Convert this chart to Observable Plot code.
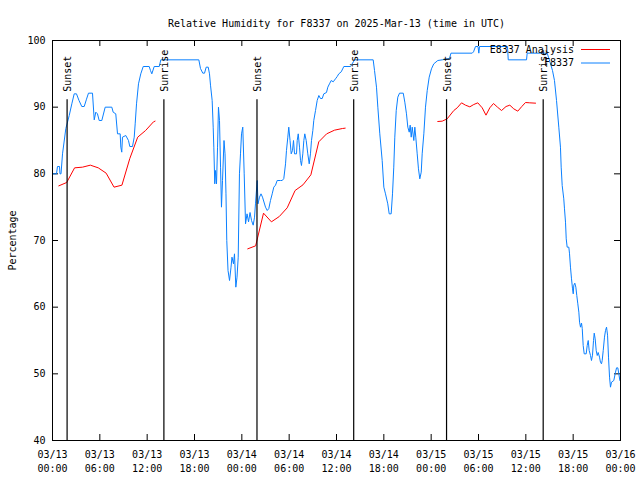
<!DOCTYPE html>
<html><head><meta charset="utf-8">
<script src="https://cdn.jsdelivr.net/npm/d3@7"></script>
<script src="https://cdn.jsdelivr.net/npm/@observablehq/plot@0.6"></script>
<style>body{margin:0;background:#fff}</style>
</head><body><div id="chart"></div>
<script>
const startUTC = Date.UTC(2025, 2, 13, 0, 0, 0);
const title = "Relative Humidity for F8337 on 2025-Mar-13 (time in UTC)";
const yLabel = "Percentage";
const seriesNames = ["E8337 Analysis", "F8337"];
const seriesColors = ["#ff0000", "#0a80ff"];

// F8337 observations: hours since 2025-03-13 00:00 UTC, and relative humidity (%)
const obsHours = [
  0, 0.51, 0.63, 0.89, 0.95, 1.08, 1.27, 1.69, 2.12, 2.45, 2.75, 3.04, 3.36, 3.71, 4.02, 4.31, 4.56, 5.07,
  5.29, 5.49, 5.70, 5.92, 6.25, 6.68, 7.52, 7.69, 8.02, 8.24, 8.58, 8.66, 8.78, 8.87, 9.29, 9.63, 9.80,
  10.14, 10.36, 10.48, 10.65, 10.90, 11.19, 11.50, 12.26, 12.42, 12.59, 12.89, 13.53, 13.73,
  18.55, 18.76, 19.05, 19.27, 19.48, 19.74, 19.90, 20.03, 20.24, 20.37, 20.45, 20.57, 20.66, 20.79, 20.92,
  21.04, 21.17, 21.30, 21.42, 21.55, 21.74, 21.87, 21.99, 22.09, 22.25, 22.44, 22.63, 22.75, 22.94, 23.07,
  23.24, 23.39, 23.54, 23.70, 23.83, 23.96, 24.12, 24.30, 24.47, 24.66, 24.85, 25.04, 25.23, 25.44, 25.61,
  25.73, 25.95, 26.05, 26.24, 26.43, 26.62, 27.00, 27.22, 27.42, 27.63, 27.85, 28.05, 28.27, 28.48, 28.90,
  29.12, 29.32, 29.54, 29.66, 29.83, 29.95, 30.11, 30.26, 30.42, 30.55, 30.68, 30.93, 31.02, 31.15, 31.31,
  31.44, 31.56, 31.73, 31.86, 31.98, 32.16, 32.36, 32.54, 32.70, 32.83, 33.00, 33.12, 33.34, 33.55, 33.76,
  33.97, 34.19, 34.39, 34.73, 34.90, 35.11, 35.33, 35.58, 35.87, 36.09, 36.29, 36.60, 36.93, 37.78, 38.19,
  38.35,
  40.65, 40.82, 41.07, 41.24, 41.49, 41.79, 42.00, 42.21, 42.50, 42.68, 42.93, 43.10, 43.26, 43.39, 43.57,
  43.77, 43.99, 44.46, 44.66, 44.87, 45.04, 45.22, 45.34, 45.47, 45.60, 45.80, 45.93, 46.05, 46.23, 46.39,
  46.56, 46.74, 46.86, 47.07, 47.28, 47.50, 47.75, 48.04, 48.33, 48.84, 49.40,
  50.32, 50.51, 53.20, 53.37, 53.62, 53.94, 54.04, 54.13, 57.68, 57.77, 60.09, 60.17, 62.71, 62.87, 63.13,
  63.38, 63.63, 63.89, 64.18, 64.39, 64.48, 64.61, 64.81, 64.90, 65.03, 65.12, 65.24, 65.45, 65.54, 65.66,
  65.79, 65.92, 66.01, 66.08, 66.21, 66.34, 66.46, 66.59, 66.72, 66.81, 66.93, 67.06, 67.15, 67.27, 67.40,
  67.65, 67.78, 67.91, 68.03, 68.20, 68.32, 68.45, 68.58, 68.67, 68.79, 68.92, 69.05, 69.17, 69.34, 69.46,
  69.59, 69.68, 69.81, 69.97, 70.10, 70.23, 70.36, 70.48, 70.61, 70.73, 70.86, 71.15, 71.37, 71.50, 71.66,
  71.79, 71.92
];
const obsValues = [
  80.0, 80.0, 81.1, 81.1, 80.0, 80.0, 83.0, 86.8, 88.75, 90.5, 92.0, 92.0, 91.0, 90.1, 90.1, 91.2, 92.1, 92.1,
  88.1, 89.25, 89.0, 88.0, 88.0, 90.0, 90.0, 89.25, 89.0, 86.0, 86.0, 84.0, 83.25, 85.5, 85.75, 85.0, 84.1,
  84.1, 85.5, 87.5, 90.5, 93.5, 95.0, 96.1, 96.1, 95.5, 95.0, 96.1, 96.1, 97.1,
  97.1, 95.8, 95.1, 95.1, 96.0, 96.0, 95.0, 93.3, 91.0, 87.0, 84.0, 78.5, 80.5, 78.5, 84.0,
  90.0, 88.0, 81.0, 75.0, 79.0, 85.0, 83.0, 77.0, 70.0, 65.5, 64.0, 66.0, 67.5, 66.5, 68.0,
  63.0, 64.5, 67.5, 80.0, 83.0, 86.0, 87.0, 80.0, 72.5, 74.0, 72.8, 74.2, 73.0, 72.3, 73.5,
  75.5, 79.0, 75.5, 76.5, 77.0, 76.5, 75.0, 74.5, 74.8, 76.0, 77.0, 78.0, 78.3, 79.0, 79.0,
  79.0, 79.3, 81.5, 83.5, 85.5, 87.0, 85.0, 83.0, 83.5, 85.0, 83.0, 83.0, 85.0, 86.0, 84.0,
  82.0, 81.25, 83.0, 85.0, 86.0, 85.0, 83.0, 81.5, 83.0, 85.0, 86.5, 88.0, 89.5, 91.0, 91.75,
  91.3, 91.3, 92.0, 92.2, 93.0, 93.5, 94.0, 93.8, 94.25, 94.6, 95.0, 95.3, 96.1, 96.1, 96.9,
  97.1,
  97.1, 95.5, 93.0, 90.0, 86.0, 82.0, 78.0, 77.0, 75.5, 74.0, 74.0, 77.0, 81.0, 85.5, 89.5,
  91.5, 92.1, 92.1, 90.75, 89.0, 87.0, 86.25, 87.3, 85.5, 87.0, 85.0, 87.0, 85.5, 83.0, 80.75,
  79.25, 80.25, 83.0, 86.0, 90.0, 92.5, 94.5, 95.75, 96.5, 97.0, 97.1,
  97.3, 98.1, 98.1, 98.3, 99.1, 99.1, 98.1, 99.1, 99.1, 97.1, 97.1, 98.1, 98.1, 97.5, 96.5,
  95.5, 94.0, 91.0, 87.0, 84.0, 81.0, 78.25, 76.25, 74.75, 72.75, 70.25, 69.0, 69.0, 68.0, 66.0,
  64.25, 62.75, 62.0, 63.3, 63.6, 63.0, 61.75, 60.5, 59.25, 57.75, 57.0, 57.6, 56.8, 54.25, 53.0,
  53.0, 54.25, 55.0, 53.5, 52.75, 52.0, 52.8, 55.0, 56.1, 55.25, 53.5, 52.75, 53.2, 52.5, 51.75,
  51.5, 52.0, 53.5, 55.5, 56.5, 57.0, 55.8, 52.5, 49.5, 48.0, 48.75, 49.0, 50.25, 50.9, 50.9,
  50.0, 49.0
];

// E8337 Analysis: three daily segments (null separates them)
const anaHours = [
  0.8, 1.8, 2.8, 3.8, 4.8, 5.8, 6.8, 7.8, 8.8, 9.8, 10.8, 11.8, 12.8, 13.0, 13.1,
  24.75, 25.75, 26.75, 27.75, 28.75, 29.75, 30.75, 31.75, 32.75, 33.75, 34.75, 35.75, 36.75, 37.1, 37.2,
  48.84, 49.40, 50.03, 50.87, 51.30, 51.85, 52.35, 52.90, 53.40, 53.91, 54.47, 54.95, 55.43, 55.90,
  56.41, 56.92, 57.49, 57.97, 58.47, 58.98, 59.49, 59.96, 60.50, 61.23
];
const anaValues = [
  78.2, 78.7, 80.9, 81.0, 81.3, 80.9, 80.1, 78.0, 78.3, 82.3, 85.5, 86.5, 87.8, 87.9, null,
  68.75, 69.2, 74.1, 72.8, 73.6, 74.9, 77.5, 78.35, 79.85, 84.8, 86.0, 86.55, 86.8, 86.85, null,
  87.85, 87.9, 88.25, 89.5, 89.9, 90.65, 90.3, 90.05, 90.4, 90.65, 89.9, 88.8, 89.9, 90.55,
  90.0, 89.5, 90.1, 90.3, 89.75, 89.4, 90.1, 90.7, 90.65, 90.6
];

const eventHours = [1.85, 14.12, 25.92, 38.18, 49.95, 62.2];
const eventLabels = ["Sunset", "Sunrise", "Sunset", "Sunrise", "Sunset", "Sunrise"];
const yTicks = [40, 50, 60, 70, 80, 90, 100];
const xTickHours = [0, 6, 12, 18, 24, 30, 36, 42, 48, 54, 60, 66, 72];

const toDate = h => new Date(startUTC + h * 3600e3);
const obs = obsHours.map((h, i) => ({time: toDate(h), value: obsValues[i]}));
const ana = anaHours.map((h, i) => ({time: toDate(h), value: anaValues[i]}));
const events = eventHours.map((h, i) => ({time: toDate(h), label: eventLabels[i]}));
const xTicks = xTickHours.map(toDate);
const fmt = d3.utcFormat("%m/%d\n%H:%M");

const W = 640, H = 480, mL = 52, mR = 20, mT = 40, mB = 40;
const innerW = W - mL - mR, innerH = H - mT - mB, tick = 6;

const chart = Plot.plot({
  width: W, height: H,
  marginLeft: mL, marginRight: mR, marginTop: mT, marginBottom: mB,
  style: {fontFamily: "DejaVu Sans Mono", fontSize: "10px", background: "#fff", color: "#000"},
  x: {type: "utc", domain: [toDate(0), toDate(72)]},
  y: {domain: [40, 100]},
  marks: [
    Plot.axisY(yTicks, {tickSize: 0, tickPadding: 7, label: null, tickFormat: d => String(d)}),
    Plot.axisX(xTicks, {tickSize: 0, tickPadding: 8, label: null, tickFormat: fmt, lineHeight: 1.4}),
    Plot.tickY(yTicks, {y: d => d, insetRight: innerW - tick, stroke: "#000"}),
    Plot.tickY(yTicks, {y: d => d, insetLeft: innerW - tick, stroke: "#000"}),
    Plot.tickX(xTicks, {x: d => d, insetTop: innerH - tick, stroke: "#000"}),
    Plot.tickX(xTicks, {x: d => d, insetBottom: innerH - tick, stroke: "#000"}),
    Plot.line(ana, {x: "time", y: "value", stroke: seriesColors[0], strokeWidth: 1}),
    Plot.line(obs, {x: "time", y: "value", stroke: seriesColors[1], strokeWidth: 1}),
    Plot.ruleX(events, {x: "time", y1: 40, y2: 91.1, stroke: "#000", strokeWidth: 1.2}),
    Plot.text(events, {x: "time", y: 92.3, text: "label", rotate: -90, textAnchor: "start", lineAnchor: "middle", dx: 1, fill: "#000"}),
    Plot.frame({stroke: "#000"}),
    Plot.text([title], {text: d => d, frameAnchor: "top", dy: -21, fill: "#000"}),
    Plot.text([yLabel], {text: d => d, frameAnchor: "left", dx: -40, rotate: -90, textAnchor: "middle", fill: "#000"})
  ]
});
document.getElementById("chart").append(chart);

// legend (inside the top-right of the plot frame)
const svg = d3.select(chart);
const lg = svg.append("g").attr("font-family", "DejaVu Sans Mono").attr("font-size", 10);
seriesNames.forEach((name, i) => {
  const y = mT + 9.5 + i * 13.5;
  lg.append("text").attr("x", W - mR - 46).attr("y", y).attr("dy", "0.32em")
    .attr("text-anchor", "end").attr("fill", "#000").text(name);
  lg.append("line").attr("x1", W - mR - 39).attr("x2", W - mR - 10)
    .attr("y1", y).attr("y2", y).attr("stroke", seriesColors[i]).attr("stroke-width", 1);
});
</script>
</body></html>
